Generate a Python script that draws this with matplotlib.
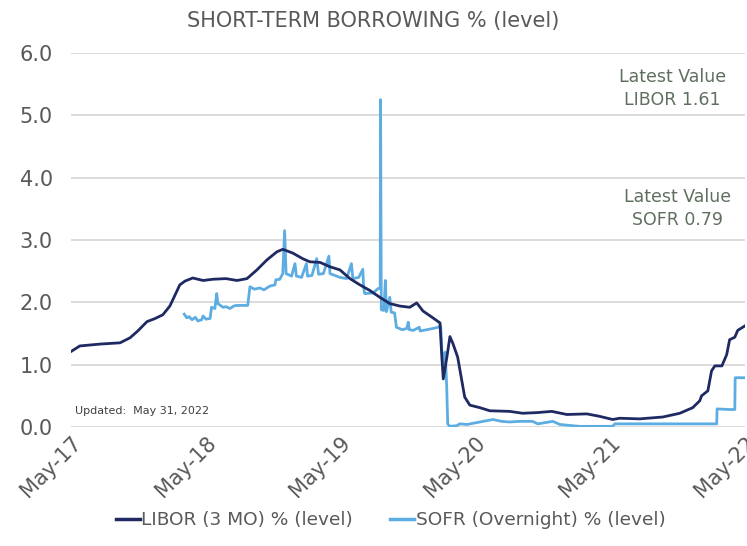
import pandas as pd
import matplotlib
matplotlib.use('Agg')
import matplotlib.pyplot as plt
import matplotlib.dates as mdates

# LIBOR 3M
libor_dates = ["2017-05-31", "2017-06-24", "2017-08-18", "2017-10-11", "2017-11-07", "2017-11-28",
               "2017-12-23", "2018-01-14", "2018-02-04", "2018-02-23", "2018-03-03", "2018-03-22",
               "2018-04-05", "2018-04-26", "2018-05-24", "2018-06-20", "2018-07-25", "2018-08-24",
               "2018-09-20", "2018-10-17", "2018-11-13", "2018-12-10", "2018-12-26", "2019-01-22",
               "2019-02-18", "2019-03-09", "2019-04-06", "2019-05-03", "2019-05-30", "2019-06-26",
               "2019-07-23", "2019-08-19", "2019-09-15", "2019-10-12", "2019-11-08", "2019-12-05",
               "2019-12-24", "2020-01-10", "2020-02-06", "2020-02-25", "2020-03-01", "2020-03-05",
               "2020-03-15", "2020-03-23", "2020-03-31", "2020-04-13", "2020-04-24", "2020-05-02",
               "2020-05-16", "2020-06-12", "2020-07-09", "2020-09-01", "2020-10-06", "2020-11-13",
               "2020-12-24", "2021-02-03", "2021-03-29", "2021-05-03", "2021-06-07", "2021-06-26",
               "2021-08-19", "2021-10-21", "2021-12-06", "2022-01-10", "2022-01-29", "2022-02-03",
               "2022-02-20", "2022-03-02", "2022-03-11", "2022-03-30", "2022-04-12", "2022-04-20",
               "2022-05-04", "2022-05-12", "2022-05-31"]
libor_vals = [1.21, 1.30, 1.33, 1.35, 1.43, 1.54,
              1.69, 1.74, 1.80, 1.94, 2.04, 2.28,
              2.34, 2.39, 2.35, 2.37, 2.38, 2.35,
              2.38, 2.52, 2.68, 2.81, 2.85, 2.79,
              2.70, 2.65, 2.64, 2.57, 2.52, 2.38,
              2.28, 2.19, 2.08, 1.98, 1.94, 1.92,
              1.99, 1.86, 1.75, 1.67, 1.13, 0.77,
              1.13, 1.45, 1.34, 1.12, 0.75, 0.48,
              0.35, 0.31, 0.26, 0.25, 0.22, 0.23,
              0.25, 0.20, 0.21, 0.17, 0.12, 0.14,
              0.13, 0.16, 0.22, 0.31, 0.42, 0.50,
              0.58, 0.90, 0.98, 0.98, 1.16, 1.40,
              1.44, 1.55, 1.62]

# SOFR overnight
sofr_dates = ["2018-04-03", "2018-04-10", "2018-04-16", "2018-04-24", "2018-05-03", "2018-05-10",
              "2018-05-20", "2018-05-24", "2018-06-01", "2018-06-12", "2018-06-16", "2018-06-25",
              "2018-06-30", "2018-07-03", "2018-07-17", "2018-07-25", "2018-08-05", "2018-08-15",
              "2018-08-23", "2018-09-22", "2018-09-28", "2018-10-10", "2018-10-25", "2018-11-05",
              "2018-11-21", "2018-12-05", "2018-12-07", "2018-12-18", "2018-12-26", "2018-12-31",
              "2019-01-04", "2019-01-19", "2019-01-28", "2019-02-01", "2019-02-15", "2019-02-28",
              "2019-03-03", "2019-03-15", "2019-03-28", "2019-04-02", "2019-04-15", "2019-04-30",
              "2019-05-03", "2019-05-30", "2019-06-17", "2019-06-30", "2019-07-04", "2019-07-20",
              "2019-07-31", "2019-08-02", "2019-08-05", "2019-08-28", "2019-09-10", "2019-09-16",
              "2019-09-17", "2019-09-19", "2019-09-26", "2019-09-30", "2019-10-03", "2019-10-12",
              "2019-10-16", "2019-10-25", "2019-10-30", "2019-11-15", "2019-11-27", "2019-12-01",
              "2019-12-04", "2019-12-15", "2019-12-31", "2020-01-02", "2020-01-20", "2020-02-06",
              "2020-02-20", "2020-02-27", "2020-03-01", "2020-03-05", "2020-03-10", "2020-03-14",
              "2020-03-17", "2020-03-23", "2020-04-10", "2020-04-19", "2020-05-08", "2020-06-12",
              "2020-07-18", "2020-08-10", "2020-09-01", "2020-09-28", "2020-11-02", "2020-11-16",
              "2020-12-27", "2021-01-15", "2021-02-19", "2021-03-10", "2021-06-07", "2021-06-13",
              "2022-03-16", "2022-03-17", "2022-04-20", "2022-05-04", "2022-05-05", "2022-05-31"]
sofr_vals = [1.81, 1.75, 1.77, 1.72, 1.76, 1.70,
             1.72, 1.78, 1.73, 1.74, 1.92, 1.90,
             2.14, 1.98, 1.92, 1.93, 1.90, 1.94,
             1.95, 1.95, 2.25, 2.21, 2.23, 2.20,
             2.26, 2.28, 2.36, 2.37, 2.46, 3.15,
             2.46, 2.42, 2.62, 2.42, 2.40, 2.62,
             2.42, 2.43, 2.70, 2.45, 2.46, 2.74,
             2.46, 2.40, 2.38, 2.62, 2.38, 2.40,
             2.53, 2.25, 2.14, 2.15, 2.22, 2.22,
             5.25, 1.88, 1.87, 2.35, 1.85, 2.08,
             1.84, 1.83, 1.60, 1.56, 1.58, 1.68,
             1.56, 1.55, 1.60, 1.54, 1.56, 1.58,
             1.60, 1.62, 1.24, 1.00, 1.20, 0.70,
             0.05, 0.01, 0.02, 0.05, 0.04, 0.08,
             0.12, 0.09, 0.08, 0.09, 0.09, 0.05,
             0.09, 0.04, 0.02, 0.01, 0.01, 0.05,
             0.05, 0.29, 0.28, 0.28, 0.79, 0.79]

tick_dates = ["2017-05-31", "2018-05-31", "2019-05-31", "2020-05-31", "2021-05-31", "2022-05-31"]
y_ticks = [0, 1, 2, 3, 4, 5, 6]

navy = '#1f2a63'
light = '#5dade2'
grey = '#595959'

fig = plt.figure(figsize=(7.47, 5.46), dpi=100)
ax = fig.add_axes([0.095, 0.218, 0.902, 0.685])

ax.plot(pd.to_datetime(libor_dates), libor_vals, color=navy, lw=2.0, label='LIBOR (3 MO) % (level)', zorder=3)
ax.plot(pd.to_datetime(sofr_dates), sofr_vals, color=light, lw=2.0, label='SOFR (Overnight) % (level)', zorder=2)

ax.set_ylim(0, 6)
ax.set_yticks(y_ticks)
ax.set_yticklabels([f'{v:.1f}' for v in y_ticks])
ax.set_xlim(pd.Timestamp(tick_dates[0]), pd.Timestamp(tick_dates[-1]))
ax.set_xticks(pd.to_datetime(tick_dates))
ax.xaxis.set_major_formatter(mdates.DateFormatter('%b-%y'))

ax.grid(axis='y', color='#d9d9d9', lw=1.3)
ax.set_axisbelow(True)
for s in ax.spines.values():
    s.set_visible(False)
ax.tick_params(length=0, colors=grey, labelsize=15)
ax.tick_params(axis='y', pad=13)
ax.tick_params(axis='x', pad=4)
plt.setp(ax.get_xticklabels(), rotation=45, ha='right', va='top', rotation_mode='anchor')

fig.text(0.5, 0.962, 'SHORT-TERM BORROWING % (level)', ha='center', va='center',
         fontsize=15, color=grey)

ann = '#5f6f5f'
ax.text(0.893, 0.905, 'Latest Value\nLIBOR 1.61', transform=ax.transAxes, ha='center', va='center',
        multialignment='center', fontsize=12.5, color=ann, linespacing=1.35)
ax.text(0.9, 0.585, 'Latest Value\nSOFR 0.79', transform=ax.transAxes, ha='center', va='center',
        multialignment='center', fontsize=12.5, color=ann, linespacing=1.35)
ax.text(0.006, 0.03, 'Updated:  May 31, 2022', transform=ax.transAxes, ha='left', va='bottom',
        fontsize=8, color='#404040')

leg = fig.legend(loc='lower center', bbox_to_anchor=(0.523, 0.0), ncol=2, frameon=False,
                 handlelength=1.3, handletextpad=0.1, columnspacing=2.0,
                 prop={'size': 13.3})
for t in leg.get_texts():
    t.set_color(grey)
for h in leg.get_lines():
    h.set_linewidth(2.5)

fig.savefig('out.png', dpi=100)
